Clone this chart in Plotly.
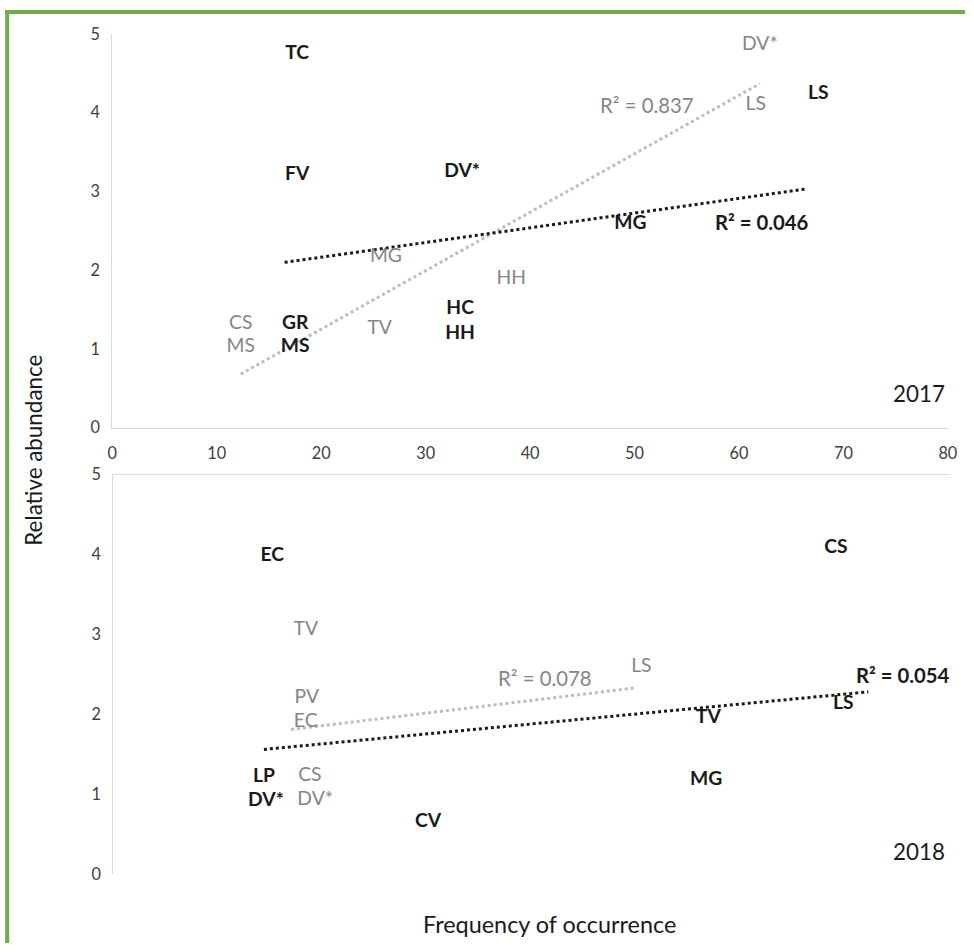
import plotly.graph_objects as go

# ---- 2017 panel -------------------------------------------------------
y17_black_labels = ["TC", "FV", "DV*", "MG", "LS", "GR", "MS", "HC", "HH"]
y17_black_x = [17.7, 17.7, 33.5, 49.6, 67.6, 17.5, 17.5, 33.3, 33.3]
y17_black_y = [4.75, 3.21, 3.25, 2.59, 4.23, 1.32, 1.02, 1.50, 1.19]

y17_gray_labels = ["CS", "MS", "MG", "TV", "HH", "LS", "DV*"]
y17_gray_x = [12.3, 12.3, 26.2, 25.6, 38.2, 61.6, 62.0]
y17_gray_y = [1.32, 1.02, 2.16, 1.25, 1.89, 4.09, 4.86]

y17_black_trend_x = [16.5, 66.3]
y17_black_trend_y = [2.10, 3.03]
y17_gray_trend_x = [12.3, 62.0]
y17_gray_trend_y = [0.68, 4.37]

# ---- 2018 panel -------------------------------------------------------
y18_black_labels = ["EC", "CS", "LP", "DV*", "CV", "TV", "MG", "LS"]
y18_black_x = [15.2, 69.1, 14.4, 14.6, 30.1, 56.9, 56.7, 69.8]
y18_black_y = [3.98, 4.08, 1.21, 0.91, 0.65, 1.95, 1.18, 2.12]

y18_gray_labels = ["TV", "PV", "EC", "CS", "DV*", "LS"]
y18_gray_x = [18.4, 18.5, 18.4, 18.8, 19.3, 50.5]
y18_gray_y = [3.05, 2.20, 1.90, 1.22, 0.92, 2.59]

y18_black_trend_x = [14.4, 72.2]
y18_black_trend_y = [1.56, 2.28]
y18_gray_trend_x = [17.0, 49.9]
y18_gray_trend_y = [1.81, 2.33]

r2_labels = ["R² = 0.837", "R² = 0.046", "R² = 0.078", "R² = 0.054"]

x_ticks = [0, 10, 20, 30, 40, 50, 60, 70, 80]
y_ticks = [0, 1, 2, 3, 4, 5]

W, H = 974, 952
FONT = "Lato"
BLACK = "#1a1a1a"
GRAY = "#858585"
TREND_GRAY = "#bdbdbd"
AXIS_LINE = "#d9d9d9"
GREEN = "#70ad47"
TICK_COLOR = "#404040"

# The page body keeps its default 8px margin, so the figure sits at (8, 8)
# inside a slightly larger page; convert page positions to figure positions.
PAGE_MARGIN = 8
SX = (W + 2 * PAGE_MARGIN) / W
SY = (H + 2 * PAGE_MARGIN) / H


def fx(p):
    return p * SX - PAGE_MARGIN


def fy(p):
    return p * SY - PAGE_MARGIN


def px(p):
    return fx(p) / W


def py(p):
    return 1 - fy(p) / H


def fs(size):
    return round(size * SX, 1)


LABEL_SIZE = fs(19)
R2_SIZE = fs(20)

fig = go.Figure()

# trendlines (drawn first so labels sit over them)
trend_specs = [
    (y17_gray_trend_x, y17_gray_trend_y, TREND_GRAY, "x", "y"),
    (y17_black_trend_x, y17_black_trend_y, BLACK, "x", "y"),
    (y18_gray_trend_x, y18_gray_trend_y, TREND_GRAY, "x2", "y2"),
    (y18_black_trend_x, y18_black_trend_y, BLACK, "x2", "y2"),
]
for tx, ty, col, xa, ya in trend_specs:
    fig.add_trace(go.Scatter(x=tx, y=ty, mode="lines",
                             line=dict(color=col, width=3, dash="dot"),
                             xaxis=xa, yaxis=ya, hoverinfo="skip"))

# species labels
label_specs = [
    (y17_gray_x, y17_gray_y, y17_gray_labels, GRAY, False, "x", "y"),
    (y17_black_x, y17_black_y, y17_black_labels, BLACK, True, "x", "y"),
    (y18_gray_x, y18_gray_y, y18_gray_labels, GRAY, False, "x2", "y2"),
    (y18_black_x, y18_black_y, y18_black_labels, BLACK, True, "x2", "y2"),
]
for lx, ly, names, col, bold, xa, ya in label_specs:
    fig.add_trace(go.Scatter(
        x=lx, y=ly, text=names, mode="text", textposition="middle center",
        textfont=dict(family=FONT, size=LABEL_SIZE, color=col,
                      weight="bold" if bold else "normal"),
        xaxis=xa, yaxis=ya))

axis_common = dict(showgrid=False, zeroline=False, showline=True,
                   linecolor=AXIS_LINE, linewidth=1, fixedrange=True)
tick_font = dict(family=FONT, size=fs(16), color=TICK_COLOR)

fig.update_layout(
    width=W, height=H,
    margin=dict(l=0, r=0, t=0, b=0),
    paper_bgcolor="white", plot_bgcolor="white",
    showlegend=False,
    font=dict(family=FONT, color=TICK_COLOR),
    xaxis=dict(domain=[px(115), px(949)], anchor="y", range=[0, 80],
               tickvals=x_ticks, ticks="", ticklabelstandoff=11,
               tickfont=tick_font, **axis_common),
    yaxis=dict(domain=[py(427), py(32)], anchor="x", range=[0, 5],
               tickvals=y_ticks, ticks="", ticklabelstandoff=8,
               tickfont=tick_font, **axis_common),
    xaxis2=dict(domain=[px(116), px(951)], anchor="y2", side="top",
                range=[0, 80], showticklabels=False, ticks="",
                **axis_common),
    yaxis2=dict(domain=[py(875), py(474)], anchor="x2", range=[0, 5],
                tickvals=y_ticks, ticks="", ticklabelstandoff=8,
                tickfont=tick_font, **axis_common),
)

annotations = [
    dict(x=51.1, y=4.10, xref="x", yref="y", text=r2_labels[0],
         font=dict(family=FONT, size=R2_SIZE, color=GRAY)),
    dict(x=62.2, y=2.61, xref="x", yref="y", text="<b>" + r2_labels[1] + "</b>",
         font=dict(family=FONT, size=R2_SIZE, color=BLACK)),
    dict(x=41.2, y=2.46, xref="x2", yref="y2", text=r2_labels[2],
         font=dict(family=FONT, size=R2_SIZE, color=GRAY)),
    dict(x=75.5, y=2.49, xref="x2", yref="y2", text="<b>" + r2_labels[3] + "</b>",
         font=dict(family=FONT, size=R2_SIZE, color=BLACK)),
    dict(x=px(920), y=py(393), xref="paper", yref="paper", text="2017",
         font=dict(family=FONT, size=fs(22), color=BLACK)),
    dict(x=px(920), y=py(852), xref="paper", yref="paper", text="2018",
         font=dict(family=FONT, size=fs(22), color=BLACK)),
    dict(x=px(36), y=py(450), xref="paper", yref="paper",
         text="Relative abundance", textangle=-90,
         font=dict(family=FONT, size=fs(22), color=BLACK)),
    dict(x=px(551), y=py(925), xref="paper", yref="paper",
         text="Frequency of occurrence",
         font=dict(family=FONT, size=fs(23), color=BLACK)),
]
for a in annotations:
    a.update(showarrow=False, xanchor="center", yanchor="middle")
fig.update_layout(annotations=annotations)

# green frame on the top and left edges
fig.add_shape(type="line", xref="paper", yref="paper",
              x0=0, x1=1, y0=1 - 2 / H, y1=1 - 2 / H,
              line=dict(color=GREEN, width=4))
fig.add_shape(type="line", xref="paper", yref="paper",
              x0=2.2 / W, x1=2.2 / W, y0=1, y1=0,
              line=dict(color=GREEN, width=4))

fig.write_html("out.html")
